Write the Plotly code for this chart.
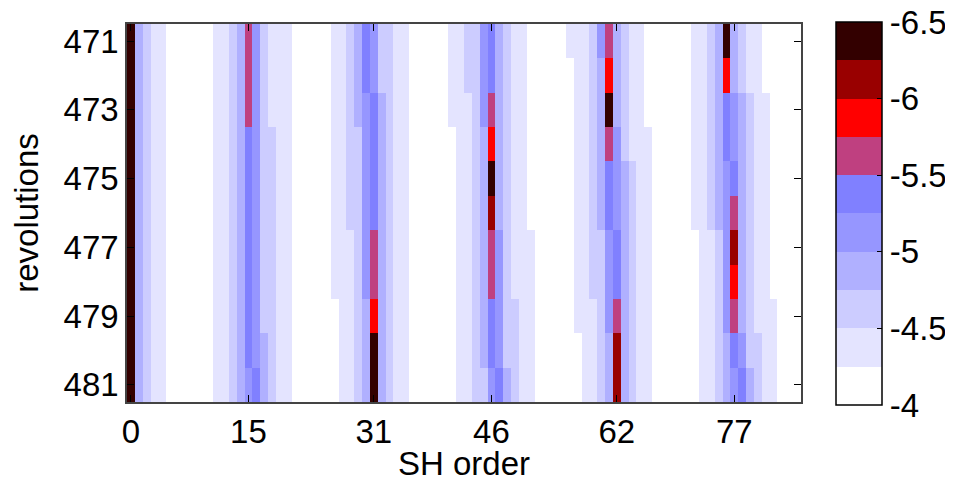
import plotly.graph_objects as go

# ---- data ----
revolutions = list(range(471, 482))          # rows, top to bottom
sh_order = list(range(86))                   # columns
x_tick_vals = [0, 15, 31, 46, 62, 77]
y_tick_vals = [471, 473, 475, 477, 479, 481]
cbar_tick_vals = [-4, -4.5, -5, -5.5, -6, -6.5]

# value of each contour bin (bin k covers -4-0.25k .. -4-0.25(k+1))
level_value = [-4.125, -4.375, -4.625, -4.875, -5.125,
               -5.375, -5.625, -5.875, -6.125, -6.375]
level_color = ["#ffffff", "#e4e4ff", "#ccccff", "#b0b0ff", "#9696ff",
               "#8080ff", "#bf4080", "#ff0000", "#990000", "#330000"]

# bin index for each SH order, one digit per revolution 471..481
col_levels = {
    0: "99999999999", 1: "33333333333", 2: "22222222222", 3: "11111111111", 4: "11111111111",
    11: "11111111111", 12: "11111111111", 13: "22222222222", 14: "33333333333",
    15: "66655555554", 16: "44444444445", 17: "22222222233", 18: "11122222222",
    19: "11111111111", 20: "11111111111",
    26: "11111111000", 27: "11111111111", 28: "22222211111", 29: "33322222222",
    30: "55444444333", 31: "44555566799", 32: "22333333333", 33: "22222222222",
    34: "11111111111", 35: "11111111111",
    41: "11100000000", 42: "11111111111", 43: "22111111111", 44: "22222222222",
    45: "44433333332", 46: "55679866554", 47: "33333344445", 48: "22222222223",
    49: "11111111222", 50: "11111111111", 51: "00000011111",
    56: "10000000000", 57: "11111111100", 58: "11111111111", 59: "22222222111",
    60: "43333322222", 61: "67965544433", 62: "33344455688", 63: "22223333333",
    64: "11112222222", 65: "11111111111", 66: "00011111111",
    72: "11111100000", 73: "11111111111", 74: "22222211111", 75: "33333322222",
    76: "97554444433", 77: "33445687654", 78: "22333333345", 79: "11222222223",
    80: "11111111122", 81: "00111111111", 82: "00000000111",
}

z = [[level_value[int(col_levels.get(c, "0" * len(revolutions))[r])] for c in sh_order]
     for r in range(len(revolutions))]

# colour mapping is done on the magnitude so that -4 sits at the bottom of the bar
zmag = [[-v for v in row] for row in z]
n = len(level_color)
colorscale = []
for k, col in enumerate(level_color):
    colorscale.append([k / n, col])
    colorscale.append([(k + 1) / n, col])

ZMIN, ZMAX = 4, 6.5
cb_tickvals = [-v for v in cbar_tick_vals]

FONT = dict(family="Arial, Liberation Sans, sans-serif", size=33, color="black")

fig = go.Figure(go.Heatmap(
    x=sh_order, y=revolutions, z=zmag, customdata=z,
    zmin=ZMIN, zmax=ZMAX, colorscale=colorscale,
    hovertemplate="order %{x}<br>rev %{y}<br>%{customdata}<extra></extra>",
    colorbar=dict(
        x=1.052, xanchor="left", y=0.4987, yanchor="middle",
        thickness=46, thicknessmode="pixels",
        len=383, lenmode="pixels",
        outlinewidth=1.5, outlinecolor="black",
        tickvals=cb_tickvals,
        ticktext=[f"{v:g}" for v in cbar_tick_vals],
        ticks="inside", ticklen=5, tickcolor="black",
        ticklabeloverflow="allow",
        tickfont=FONT, xpad=0, ypad=0,
    ),
))

# the page body adds an 8px offset, so the figure is 8px smaller and margins shifted
fig.update_layout(
    width=945, height=475,
    margin=dict(l=119, r=152, t=16, b=81, autoexpand=False),
    paper_bgcolor="white", plot_bgcolor="white",
    font=FONT,
    xaxis=dict(
        range=[-0.5, 85.5], tickvals=x_tick_vals, ticks="inside", ticklen=7,
        tickcolor="black", showline=True, linecolor="#444", linewidth=1.5,
        mirror="ticks", showgrid=False, zeroline=False, automargin=False,
    ),
    yaxis=dict(
        range=[481.5, 470.5], tickvals=y_tick_vals, ticks="inside", ticklen=7,
        tickcolor="black", showline=True, linecolor="#444", linewidth=1.5,
        mirror="ticks", showgrid=False, zeroline=False, automargin=False,
        title=dict(text="revolutions", font=FONT),
    ),
    annotations=[dict(
        text="SH order", xref="paper", yref="paper", x=0.5, y=-0.163,
        xanchor="center", yanchor="middle", showarrow=False, font=FONT,
    )],
)

fig.write_html("out.html")
